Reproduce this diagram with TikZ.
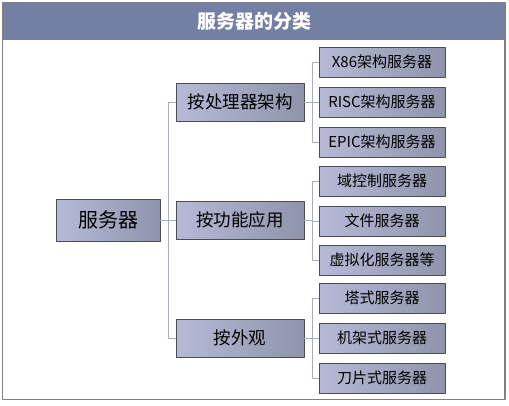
\documentclass[tikz,border=0pt]{standalone}
\usepackage{fontspec}
\newfontfamily\cjk{Noto Sans CJK SC}
\definecolor{titlebar}{HTML}{737FA3}
\definecolor{frame}{HTML}{808080}
\definecolor{boxlight}{HTML}{B6BAD6}
\definecolor{boxdark}{HTML}{8F94AC}
\definecolor{boxline}{HTML}{4A4C58}
\definecolor{linkcol}{HTML}{A8ACC2}
\tikzset{
  box/.style={draw=boxline,line width=0.9pt,left color=boxlight,right color=boxdark,inner sep=0pt},
  rootbox/.style={box,minimum width=104pt,minimum height=42pt,font=\cjk\fontsize{20}{22}\selectfont},
  midbox/.style={box,minimum width=128pt,minimum height=38pt,font=\cjk\fontsize{17.5}{20}\selectfont},
  leafbox/.style={box,minimum width=126pt,minimum height=30pt,font=\cjk\fontsize{15}{17}\selectfont},
  link/.style={draw=linkcol,line width=0.9pt}
}
\begin{document}
\begin{tikzpicture}[x=1pt,y=-1pt,line join=round,font=\cjk]
	\useasboundingbox (0,0) rectangle (509,405);
	\fill[titlebar] (2.5,2.5) rectangle (505,40);
	\draw[frame,line width=1.5pt] (2.5,2.5) rectangle (505,399.5);
	\node[text=white,font=\cjk\bfseries\fontsize{19}{21}\selectfont] (title) at (254,21) {服务器的分类};
	\node[rootbox] (root) at (108,220) {服务器};
	\node[midbox] (arch) at (240,102) {按处理器架构};
	\node[midbox] (func) at (240,220) {按功能应用};
	\node[midbox] (look) at (240,338) {按外观};
	\foreach \n/\y/\t in {a1/62/X86架构服务器,a2/102/RISC架构服务器,a3/142/EPIC架构服务器,
	  f1/181/域控制服务器,f2/221/文件服务器,f3/260/虚拟化服务器等,
	  l1/298/塔式服务器,l2/338/机架式服务器,l3/378/刀片式服务器}
	  \node[leafbox] (\n) at (382,\y) {\t};
	\draw[link] (root.east) -- ++(8,0) coordinate (trunk);
	\foreach \m in {arch,func,look} \draw[link] (trunk) |- (\m.west);
	\draw[link] (arch.east) -- ++(8,0) coordinate (ja);
	\draw[link] (func.east) -- ++(8,0) coordinate (jf);
	\draw[link] (look.east) -- ++(8,0) coordinate (jl);
	\foreach \j/\p in {ja/a,jf/f,jl/l} \foreach \k in {1,2,3} \draw[link] (\j) |- (\p\k.west);
\end{tikzpicture}
\end{document}
